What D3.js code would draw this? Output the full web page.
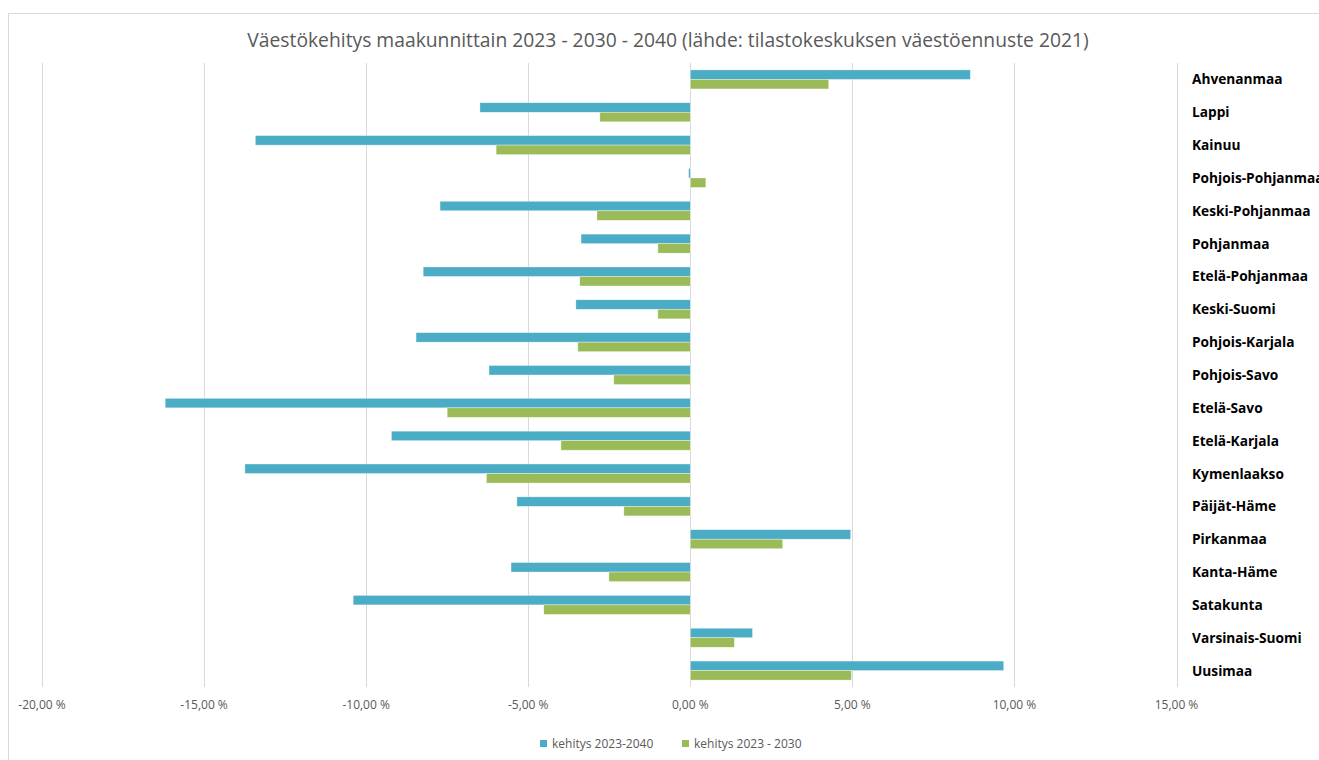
<!DOCTYPE html>
<html>
<head>
<meta charset="utf-8">
<script src="https://cdn.jsdelivr.net/npm/d3@7"></script>
<style>
  body { margin: 0; background: #fff; }
  #chart { width: 1319px; height: 760px; }
</style>
</head>
<body>
<div id="chart"></div>
<script>
const regions = ["Ahvenanmaa", "Lappi", "Kainuu", "Pohjois-Pohjanmaa", "Keski-Pohjanmaa", "Pohjanmaa",
    "Etelä-Pohjanmaa", "Keski-Suomi", "Pohjois-Karjala", "Pohjois-Savo", "Etelä-Savo", "Etelä-Karjala",
    "Kymenlaakso", "Päijät-Häme", "Pirkanmaa", "Kanta-Häme", "Satakunta", "Varsinais-Suomi", "Uusimaa"];
const change2040 = [8.64, -6.49, -13.42, -0.05, -7.72, -3.37, -8.24, -3.53, -8.46, -6.21, -16.2, -9.22,
    -13.74, -5.35, 4.95, -5.53, -10.4, 1.92, 9.67];
const change2030 = [4.27, -2.79, -5.99, 0.48, -2.88, -1.0, -3.41, -1.0, -3.47, -2.36, -7.5, -3.99,
    -6.29, -2.05, 2.85, -2.51, -4.52, 1.36, 4.97];
const tickValues = [-20, -15, -10, -5, 0, 5, 10, 15];
const seriesNames = ["kehitys 2023-2040", "kehitys 2023 - 2030"];
const colors = ["#4BACC6", "#9BBB59"];

const width = 1319, height = 760;
const svg = d3.select("#chart").append("svg")
    .attr("width", width)
    .attr("height", height);

// chart area frame
svg.append("rect")
    .attr("x", 8.5).attr("y", 13.5)
    .attr("width", 1400).attr("height", 800)
    .attr("fill", "#fff")
    .attr("stroke", "#d9d9d9");

svg.append("text")
    .attr("x", 668).attr("y", 47)
    .attr("text-anchor", "middle")
    .style("font-family", "'Open Sans', sans-serif")
    .style("font-size", "19.3px")
    .style("fill", "#595959")
    .text("Väestökehitys maakunnittain 2023 - 2030 - 2040 (lähde: tilastokeskuksen väestöennuste 2021)");

const x = d3.scaleLinear().domain([-20, 15]).range([42, 1176.5]);
const y = d3.scaleBand().domain(regions).range([63, 687]).paddingInner(0.42).paddingOuter(0.21);
const sub = d3.scaleBand().domain([0, 1]).range([0, y.bandwidth()]);

// gridlines
svg.append("g")
    .selectAll("line")
    .data(tickValues)
    .join("line")
    .attr("x1", d => Math.round(x(d)) + 0.5)
    .attr("x2", d => Math.round(x(d)) + 0.5)
    .attr("y1", 63).attr("y2", 687)
    .attr("stroke", "#d9d9d9")
    .attr("stroke-width", 1);

// tick labels
svg.append("g")
    .selectAll("text")
    .data(tickValues)
    .join("text")
    .attr("x", d => x(d))
    .attr("y", 709)
    .attr("text-anchor", "middle")
    .style("font-family", "'Open Sans', sans-serif")
    .style("font-size", "12px")
    .style("fill", "#595959")
    .text(d => d3.format(".2f")(d).replace(".", ",").replace("−", "-") + " %");

const series = [change2040, change2030];
series.forEach((vals, si) => {
    svg.append("g")
        .selectAll("rect")
        .data(regions)
        .join("rect")
        .attr("x", (d, i) => x(Math.min(0, vals[i])))
        .attr("y", d => y(d) + sub(si))
        .attr("width", (d, i) => Math.max(1, Math.abs(x(vals[i]) - x(0))))
        .attr("height", sub.bandwidth())
        .attr("fill", colors[si])
        .attr("stroke", "#fff")
        .attr("stroke-opacity", 0.6)
        .attr("stroke-width", 0.6);
});

// category labels on the right
svg.append("g")
    .selectAll("text")
    .data(regions)
    .join("text")
    .attr("x", 1192)
    .attr("y", d => y(d) + y.bandwidth() / 2 + 5)
    .style("font-family", "'Open Sans', sans-serif")
    .style("font-weight", "bold")
    .style("font-size", "13.7px")
    .style("fill", "#000")
    .text(d => d);

// legend
const legendX = [540, 682];
const legend = svg.append("g");
seriesNames.forEach((name, i) => {
    legend.append("rect")
        .attr("x", legendX[i]).attr("y", 740)
        .attr("width", 7).attr("height", 7)
        .attr("fill", colors[i]);
    legend.append("text")
        .attr("x", legendX[i] + 12).attr("y", 748)
        .style("font-family", "'Open Sans', sans-serif")
        .style("font-size", "12px")
        .style("fill", "#595959")
        .text(name);
});
</script>
</body>
</html>
